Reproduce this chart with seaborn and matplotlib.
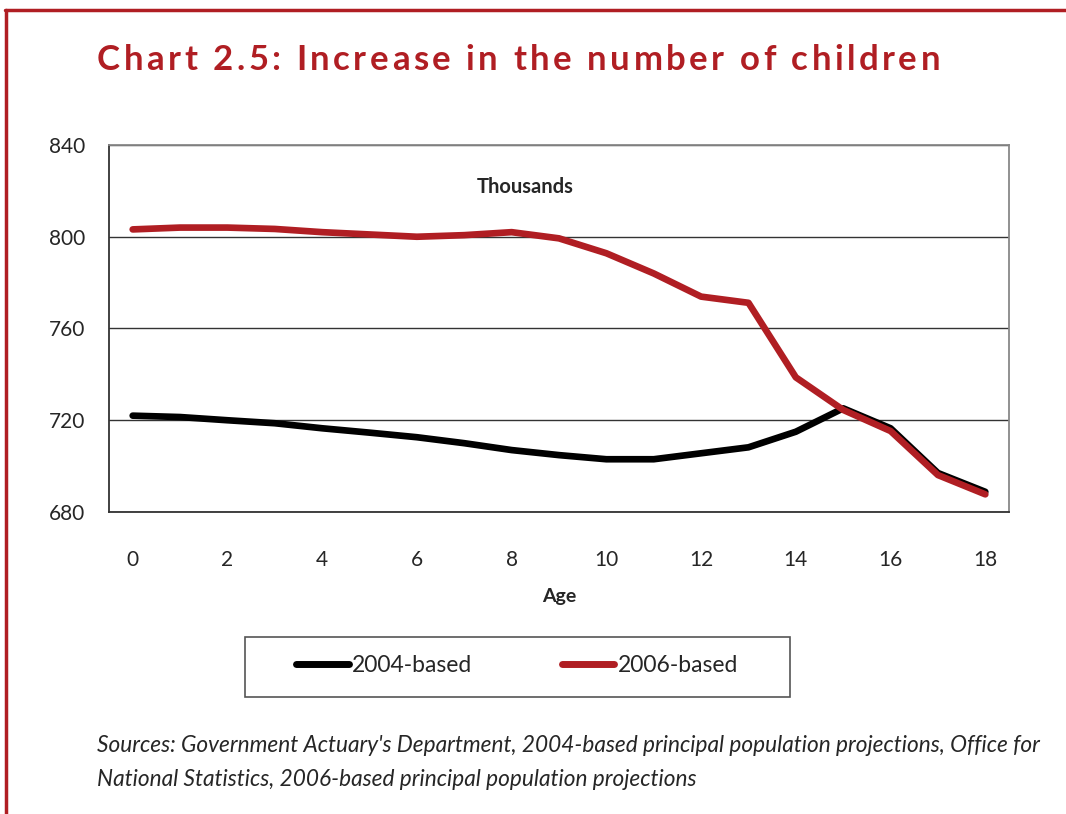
import numpy as np
import pandas as pd
import matplotlib
matplotlib.use("Agg")
import matplotlib.pyplot as plt
from matplotlib.patches import Rectangle
import seaborn as sns

#Chart data (thousands of children by single year of age)
ages = list(range(19))
based_2004 = [722.0, 721.4, 720.0, 718.7, 716.5, 714.6, 712.6, 710.0, 707.0, 704.8,
              703.0, 703.0, 705.6, 708.2, 715.0, 725.2, 716.5, 697.0, 688.8]
based_2006 = [803.2, 804.0, 804.0, 803.4, 802.0, 801.0, 800.0, 800.7, 802.0, 799.3,
              792.8, 784.0, 773.9, 771.2, 738.7, 724.5, 715.3, 696.1, 687.7]
series_names = ["2004-based", "2006-based"]
y_ticks = [680, 720, 760, 800, 840]
x_labels = [0, 2, 4, 6, 8, 10, 12, 14, 16, 18]

title = "Chart 2.5: Increase in the number of children"
source_lines = [
    "Sources: Government Actuary's Department, 2004-based principal population projections, Office for",
    "National Statistics, 2006-based principal population projections",
]

RED = "#B01E23"
W, H = 1066, 814

#Long form frame for seaborn
df = pd.concat([
    pd.DataFrame({"age": ages, "value": based_2004, "series": series_names[0]}),
    pd.DataFrame({"age": ages, "value": based_2006, "series": series_names[1]}),
], ignore_index=True)

sns.set_style("white")
plt.rcParams["font.family"] = ["Lato", "DejaVu Sans"]

fig = plt.figure(figsize=(W / 100, H / 100), dpi=100)
ax = fig.add_axes([109 / W, 1 - 512 / H, 900 / W, 367 / H])

sns.lineplot(
    data=df, x="age", y="value", hue="series",
    palette={series_names[0]: "black", series_names[1]: RED},
    linewidth=4.8, ax=ax, legend=False,
)
for ln in ax.lines:
    ln.set_solid_capstyle("round")

#Axes formatting - Excel style category axis
ax.set_xlim(-0.5, 18.5)
ax.set_ylim(680, 840)
ax.set_yticks(y_ticks)
ax.set_xticks(x_labels)
ax.set_xticks(np.arange(-0.5, 19, 1), minor=True)
ax.tick_params(axis="x", which="major", length=0, pad=27, labelsize=15)
ax.tick_params(axis="x", which="minor", length=7, width=1.2, direction="out", color="#333333")
ax.tick_params(axis="y", length=7, width=1.2, direction="out", color="#333333", labelsize=15, pad=10)
ax.set_xticklabels([str(v) for v in x_labels])
ax.yaxis.grid(True, color="#333333", linewidth=1.0)
ax.set_axisbelow(True)
for side in ["left", "bottom"]:
    ax.spines[side].set_color("#333333")
    ax.spines[side].set_linewidth(1.3)
for side in ["top", "right"]:
    ax.spines[side].set_color("#888888")
    ax.spines[side].set_linewidth(1.3)

ax.set_xlabel("Age", fontsize=14, fontweight="bold", labelpad=13)
ax.set_ylabel("")
ax.text(0.462, 0.886, "Thousands", transform=ax.transAxes, ha="center", va="center",
        fontsize=14.5, fontweight="bold")

#Legend below the chart, framed by a separate box
fig.add_artist(Rectangle((245 / W, 1 - 697 / H), 545 / W, 60 / H, transform=fig.transFigure,
                         facecolor="white", edgecolor="#555555", linewidth=1.2))
handles = [plt.Line2D([0], [0], color="black", lw=5, solid_capstyle="round"),
           plt.Line2D([0], [0], color=RED, lw=5, solid_capstyle="round")]
leg = fig.legend(handles, series_names, loc="center", ncol=2,
                 bbox_to_anchor=(517 / W, 1 - 666 / H),
                 frameon=False, fontsize=16.5, handlelength=2.3, handletextpad=0.15,
                 columnspacing=3.9, borderaxespad=0)
leg.set_in_layout(False)

#Title with letter spacing, drawn one glyph at a time
renderer = fig.canvas.get_renderer()
x_px = 97.0
target_right = 940.0
widths = []
for ch in title:
    t = fig.text(0, 0, ch if ch != " " else "n", fontsize=25, fontweight="bold")
    wpx = t.get_window_extent(renderer).width
    if ch == " ":
        wpx *= 0.45
    widths.append(wpx)
    t.remove()
spacing = (target_right - x_px - sum(widths)) / (len(title) - 1)
for ch, wpx in zip(title, widths):
    if ch != " ":
        fig.text(x_px / W, 1 - 60 / H, ch, color=RED, fontsize=25, fontweight="bold",
                 ha="left", va="center")
    x_px += wpx + spacing

#Sources footnote
for i, line in enumerate(source_lines):
    fig.text(97 / W, 1 - (745 + 35 * i) / H, line,
             fontsize=16.3, style="italic", ha="left", va="center")

#Red page border (top and left)
fig.add_artist(plt.Line2D([6 / W, 6 / W], [0, 1 - 10 / H], color=RED, lw=2.5,
                          transform=fig.transFigure))
fig.add_artist(plt.Line2D([5 / W, 1], [1 - 10 / H, 1 - 10 / H], color=RED, lw=2.5,
                          transform=fig.transFigure))

fig.savefig("out.png", dpi=100)
